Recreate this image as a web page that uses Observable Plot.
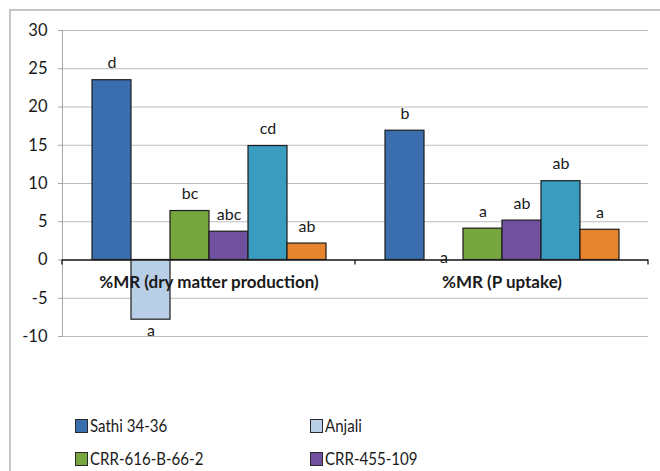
<!DOCTYPE html>
<html>
<head>
<meta charset="utf-8">
<script src="https://cdn.jsdelivr.net/npm/d3@7"></script>
<script src="https://cdn.jsdelivr.net/npm/@observablehq/plot@0.6"></script>
<style>
  body { margin: 0; background: #fff; }
  #wrap { position: relative; width: 660px; height: 471px; overflow: hidden; background: #fff; font-family: Lato, "Open Sans", sans-serif; }
  #border { position: absolute; left: 9px; top: 9px; width: 720px; height: 620px; border: 2px solid #c6c6c6; box-sizing: border-box; }
  #chart { position: absolute; left: 0; top: 0; }
  #legend { position: absolute; left: 75px; top: 409px; display: grid; grid-template-columns: 235px 235px; }
  .item { display: flex; align-items: center; height: 33px; font-size: 17.5px; color: #1a1a1a; }
  .item span { display: inline-block; transform: scaleX(0.86); transform-origin: left center; white-space: nowrap; }
  .sw { width: 11px; height: 12px; border: 1px solid #2a2a2a; margin-right: 2px; flex: none; }
</style>
</head>
<body>
<div id="wrap">
  <div id="border"></div>
  <div id="chart"></div>
  <div id="legend"></div>
</div>
<script>
// Categories (x groups) and the six rice genotypes
const categories = ["%MR (dry matter production)", "%MR (P uptake)"];
const varieties = ["Sathi 34-36", "Anjali", "CRR-616-B-66-2", "CRR-455-109", "Genotype 5", "Genotype 6"];
const colors = ["#3b6eae", "#b9cfe8", "#77a63f", "#70519d", "#3a9dbf", "#e7852f"];

// Percent mycorrhizal responsiveness per genotype
const dryMatter = [23.5, -7.8, 6.4, 3.7, 14.9, 2.15];
const pUptake = [16.9, 0, 4.1, 5.15, 10.3, 3.95];

// Significance letters
const dryMatterLetters = ["d", "a", "bc", "abc", "cd", "ab"];
const pUptakeLetters = ["b", "a", "a", "ab", "ab", "a"];

const yTicks = [-10, -5, 0, 5, 10, 15, 20, 25, 30];

// Legend rows that fit in the frame (two columns, two rows)
const legendEntries = varieties.slice(0, 4);

const rows = [];
varieties.forEach((v, i) => rows.push({category: categories[0], variety: v, value: dryMatter[i], letter: dryMatterLetters[i]}));
varieties.forEach((v, i) => rows.push({category: categories[1], variety: v, value: pUptake[i], letter: pUptakeLetters[i]}));

const labelStyle = {fx: "category", x: "variety", y: "value", text: "letter", fontSize: 16, fill: "#1a1a1a"};

const chart = Plot.plot({
  width: 660,
  height: 350,
  marginLeft: 62,
  marginRight: 12,
  marginTop: 30,
  marginBottom: 14,
  style: {fontFamily: "Lato, 'Open Sans', sans-serif", background: "transparent", color: "#1a1a1a"},
  fx: {domain: categories, padding: 0, axis: null},
  x: {domain: varieties, paddingInner: 0, paddingOuter: 0.75, axis: null},
  y: {domain: [-10, 30]},
  color: {domain: varieties, range: colors},
  marks: [
    Plot.gridY(yTicks, {stroke: "#bdbdbd", strokeOpacity: 1}),
    Plot.axisY(yTicks, {tickSize: 4, stroke: "#a6a6a6", fill: "#1a1a1a", fontSize: 16.5, tickPadding: 11, label: null, tickFormat: d => String(d)}),
    Plot.frame({anchor: "left", facetAnchor: "left", stroke: "#a6a6a6"}),
    Plot.barY(rows, {fx: "category", x: "variety", y: "value", fill: "variety", stroke: "#1c1c1c", strokeWidth: 1.2, insetLeft: 0, insetRight: 0}),
    Plot.ruleY([0], {stroke: "#1c1c1c", strokeWidth: 1.3}),
    Plot.text(rows, {...labelStyle, filter: d => d.value > 0, dy: -17}),
    Plot.text(rows, {...labelStyle, filter: d => d.value < 0, dy: 11}),
    Plot.text(rows, {...labelStyle, filter: d => d.value === 0, dy: -2}),
    Plot.text(categories, {fx: d => d, text: d => d, y: () => -3, fontWeight: "bold", fontSize: 17, fill: "#1a1a1a"})
  ]
});

// Category boundary ticks hanging below the zero line
const fxScale = chart.scale("fx");
const yScale = chart.scale("y");
const y0 = yScale.apply(0);
const edges = [fxScale.apply(categories[0]), ...categories.map(c => fxScale.apply(c) + fxScale.bandwidth)];
d3.select(chart).append("g")
  .selectAll("line").data(edges).join("line")
  .attr("x1", d => d).attr("x2", d => d)
  .attr("y1", y0).attr("y2", y0 + 5)
  .attr("stroke", "#1c1c1c").attr("stroke-width", 1.3);

document.getElementById("chart").appendChild(chart);

// Two-column legend
const legend = d3.select("#legend");
legendEntries.forEach(v => {
  const item = legend.append("div").attr("class", "item");
  item.append("div").attr("class", "sw").style("background", colors[varieties.indexOf(v)]);
  item.append("span").text(v);
});
</script>
</body>
</html>
